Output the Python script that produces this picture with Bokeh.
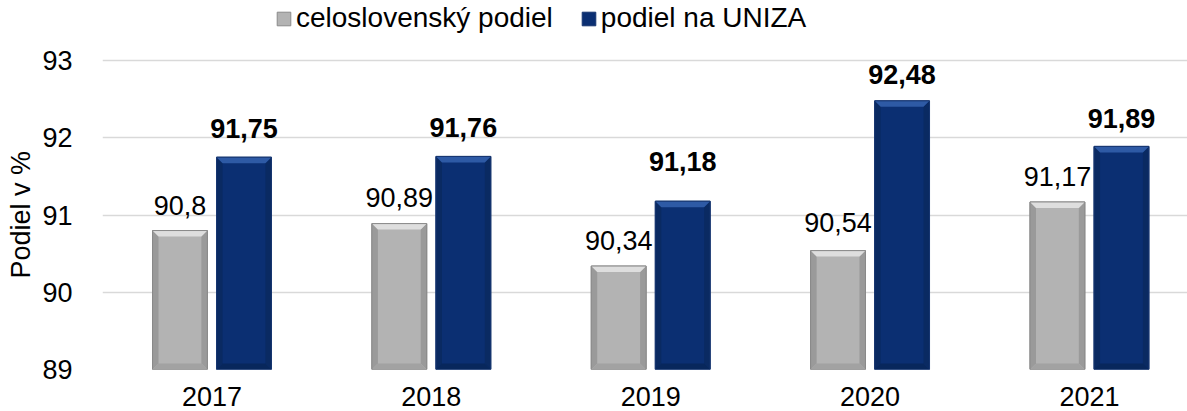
from bokeh.plotting import figure
from bokeh.models import ColumnDataSource, FixedTicker, Legend, LegendItem, Title
from bokeh.embed import file_html
from bokeh.resources import INLINE
from bokeh.core.properties import value

# ---- data ----
years = ["2017", "2018", "2019", "2020", "2021"]
slovak = [90.8, 90.89, 90.34, 90.54, 91.17]
uniza = [91.75, 91.76, 91.18, 92.48, 91.89]
series_names = ["celoslovenský podiel", "podiel na UNIZA"]
y_ticks = [89, 90, 91, 92, 93]
y_title = "Podiel v %"

# ---- style ----
FONT = "Liberation Sans"
FS = "27px"
FS_LEG = "28px"
BASE = 89
gap_slovak = [25, 26, 26, 28, 25]     # label centre distance above bar top, px
gap_uniza = [29, 29, 40, 26, 28]

p = figure(width=1187, height=411, x_range=(-0.499, 4.447), y_range=(89, 93.78),
           output_backend="svg", toolbar_location=None, title=None,
           min_border_left=102, min_border_right=0, min_border_top=0, min_border_bottom=42)
p.outline_line_color = None
p.background_fill_color = "white"
p.border_fill_color = "white"

x = [float(i) for i in range(len(years))]
W = 0.25
OFF = 0.146
bwx = 6 / 219.4
bwy = 6 / 77.2


def bevel_bar(xc, tops, base, edge, top_c, side_c, bot_c):
    src = ColumnDataSource(dict(x=xc, top=tops))
    r = p.vbar(x="x", top="top", bottom=BASE, width=W, source=src,
               fill_color=base, line_color=edge, line_width=1)
    xs_t, ys_t, xs_l, ys_l, xs_r, ys_r, xs_b, ys_b = [], [], [], [], [], [], [], []
    for xv, tv in zip(xc, tops):
        l, rr = xv - W / 2, xv + W / 2
        xs_t.append([l, rr, rr - bwx, l + bwx]); ys_t.append([tv, tv, tv - bwy, tv - bwy])
        xs_l.append([l, l + bwx, l + bwx, l]); ys_l.append([tv, tv - bwy, BASE + bwy, BASE])
        xs_r.append([rr, rr - bwx, rr - bwx, rr]); ys_r.append([tv, tv - bwy, BASE + bwy, BASE])
        xs_b.append([l, rr, rr - bwx, l + bwx]); ys_b.append([BASE, BASE, BASE + bwy, BASE + bwy])
    p.patches(xs_l, ys_l, fill_color=side_c, line_color=None)
    p.patches(xs_r, ys_r, fill_color=side_c, line_color=None)
    p.patches(xs_b, ys_b, fill_color=bot_c, line_color=None)
    p.patches(xs_t, ys_t, fill_color=top_c, line_color=None)
    p.vbar(x=xc, top=tops, bottom=BASE, width=W, fill_color=None, line_color=edge, line_width=1)
    return r


r1 = bevel_bar([v - OFF for v in x], slovak, "#b3b3b3", "#8a8a8a", "#dedede", "#9a9a9a", "#a2a2a2")
r2 = bevel_bar([v + OFF for v in x], uniza, "#0b2f72", "#173670", "#2e5aa5", "#0a2a62", "#08275c")

# labels
src1 = ColumnDataSource(dict(x=[v - OFF for v in x], y=slovak,
                             t=[str(v).replace(".", ",") for v in slovak],
                             off=[-g for g in gap_slovak]))
src2 = ColumnDataSource(dict(x=[v + OFF for v in x], y=uniza,
                             t=[str(v).replace(".", ",") for v in uniza],
                             off=[-g for g in gap_uniza]))
p.text(x="x", y="y", text="t", source=src1, text_align="center", text_baseline="middle",
       y_offset="off", text_font=value(FONT), text_font_size=FS, text_color="#000000")
p.text(x="x", y="y", text="t", source=src2, text_align="center", text_baseline="middle",
       y_offset="off", text_font=value(FONT), text_font_size=FS, text_font_style="bold",
       text_color="#000000")

# axes
p.yaxis.ticker = FixedTicker(ticks=y_ticks)
p.yaxis.axis_line_color = None
p.yaxis.major_tick_line_color = None
p.yaxis.minor_tick_line_color = None
p.yaxis.major_label_standoff = 24
p.yaxis.major_label_text_font = FONT
p.yaxis.major_label_text_font_size = FS
p.yaxis.major_label_text_color = "#000000"

ytitle = Title(text=y_title, align="left", offset=91, standoff=7,
               text_font=FONT, text_font_size=FS, text_font_style="normal",
               text_color="#000000")
p.add_layout(ytitle, "left")

p.xaxis.ticker = FixedTicker(ticks=x)
p.xaxis.major_label_overrides = {i: yr for i, yr in zip(range(len(years)), years)}
p.xaxis.axis_line_color = None
p.xaxis.major_tick_line_color = None
p.xaxis.minor_tick_line_color = None
p.xaxis.major_label_standoff = 11
p.xaxis.major_label_text_font = FONT
p.xaxis.major_label_text_font_size = FS
p.xaxis.major_label_text_color = "#000000"

p.xgrid.grid_line_color = None
p.ygrid.grid_line_color = "#d9d9d9"
p.ygrid.grid_line_width = 1.5

legend = Legend(items=[LegendItem(label=series_names[0], renderers=[r1]),
                       LegendItem(label=series_names[1], renderers=[r2])],
                orientation="horizontal", location=(173, 335), padding=0, margin=0,
                spacing=27, glyph_width=17, glyph_height=17, label_standoff=4,
                label_text_font=FONT, label_text_font_size=FS_LEG, label_text_color="#000000",
                border_line_color=None, background_fill_alpha=0)
p.add_layout(legend, "center")

open("out.html", "w").write(file_html(p, INLINE))
